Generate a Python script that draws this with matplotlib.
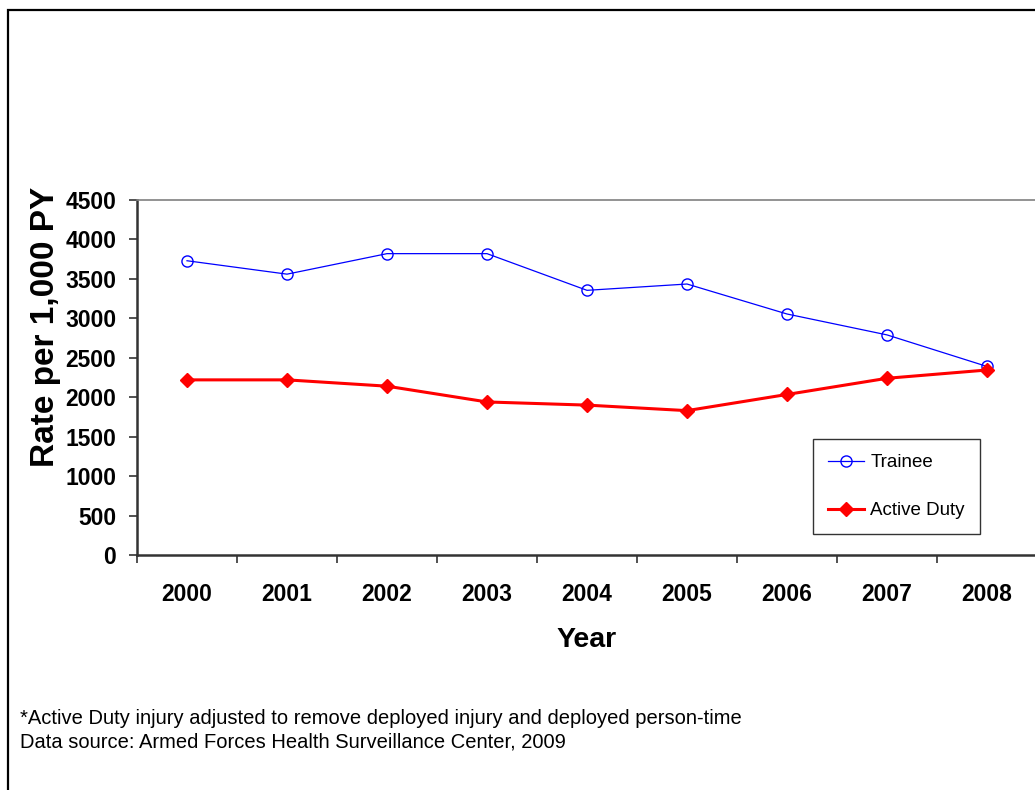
import matplotlib
matplotlib.use("Agg")
import matplotlib.pyplot as plt
from matplotlib.patches import Rectangle

years = ["2000", "2001", "2002", "2003", "2004", "2005", "2006", "2007", "2008"]
trainee = [3730, 3560, 3820, 3820, 3355, 3435, 3055, 2790, 2390]
active_duty = [2220, 2220, 2140, 1940, 1900, 1830, 2035, 2240, 2345]
y_ticks = [0, 500, 1000, 1500, 2000, 2500, 3000, 3500, 4000, 4500]

plt.rcParams['font.family'] = ['Liberation Sans', 'DejaVu Sans']

W, H = 1035, 790
fig = plt.figure(figsize=(W / 100, H / 100), dpi=100)

# figure border (left and top visible)
fig.patches.append(Rectangle((8 / W, -0.1), 1.2, (790 - 10) / H + 0.1,
                             transform=fig.transFigure, fill=False,
                             edgecolor='black', linewidth=1.6))

ax = fig.add_axes([137 / W, (790 - 555) / H, 900 / W, 355 / H])
x = list(range(len(years)))
ax.plot(x, trainee, color='#0000FF', linewidth=0.9, marker='o', markersize=8,
        markerfacecolor='none', markeredgecolor='#0000FF', markeredgewidth=1.0,
        label='Trainee')
ax.plot(x, active_duty, color='#FF0000', linewidth=2.2, marker='D', markersize=7.5,
        markerfacecolor='#FF0000', markeredgecolor='#FF0000', label='Active Duty')

ax.set_xlim(-0.5, len(years) - 0.5)
ax.set_ylim(0, 4500)
ax.set_yticks(y_ticks)
ax.set_yticklabels([str(v) for v in y_ticks], fontsize=16.5, fontweight='bold')
ax.set_xticks([i - 0.5 for i in range(len(years) + 1)])
ax.set_xticklabels([])
ax.set_xticks(x, minor=True)
ax.set_xticklabels(years, minor=True, fontsize=16.5, fontweight='bold')
ax.tick_params(axis='x', which='minor', length=0, pad=20)
ax.tick_params(axis='x', which='major', length=6, width=1.2, color='#333333', direction='out')
ax.tick_params(axis='y', length=6, width=1.2, color='#333333', direction='out', pad=9)

for s in ['left', 'bottom']:
    ax.spines[s].set_color('#333333')
    ax.spines[s].set_linewidth(1.8)
ax.spines['top'].set_color('#808080')
ax.spines['top'].set_linewidth(1.2)
ax.spines['right'].set_visible(False)

ax.set_xlabel('Year', fontsize=20.5, fontweight='bold')
ax.set_ylabel('Rate per 1,000 PY', fontsize=24, fontweight='bold')
ax.xaxis.set_label_coords((587 - 137) / 900, -(627 - 555) / 355)
ax.yaxis.set_label_coords((61 - 137) / 900, (555 - 327) / 355)

leg = ax.legend(loc='upper left', bbox_to_anchor=((813 - 137) / 900, (555 - 439) / 355),
                fontsize=13.5, frameon=True, fancybox=False,
                edgecolor='black', borderpad=0.8, labelspacing=1.65, handlelength=1.9,
                handletextpad=0.35, borderaxespad=0)
leg.get_frame().set_linewidth(1.0)

fig.text(20 / W, 1 - 718 / H, '*Active Duty injury adjusted to remove deployed injury and deployed person-time',
         fontsize=14.5, va='center', ha='left')
fig.text(20 / W, 1 - 742 / H, 'Data source: Armed Forces Health Surveillance Center, 2009',
         fontsize=14.5, va='center', ha='left')

fig.savefig('out.png', dpi=100)
